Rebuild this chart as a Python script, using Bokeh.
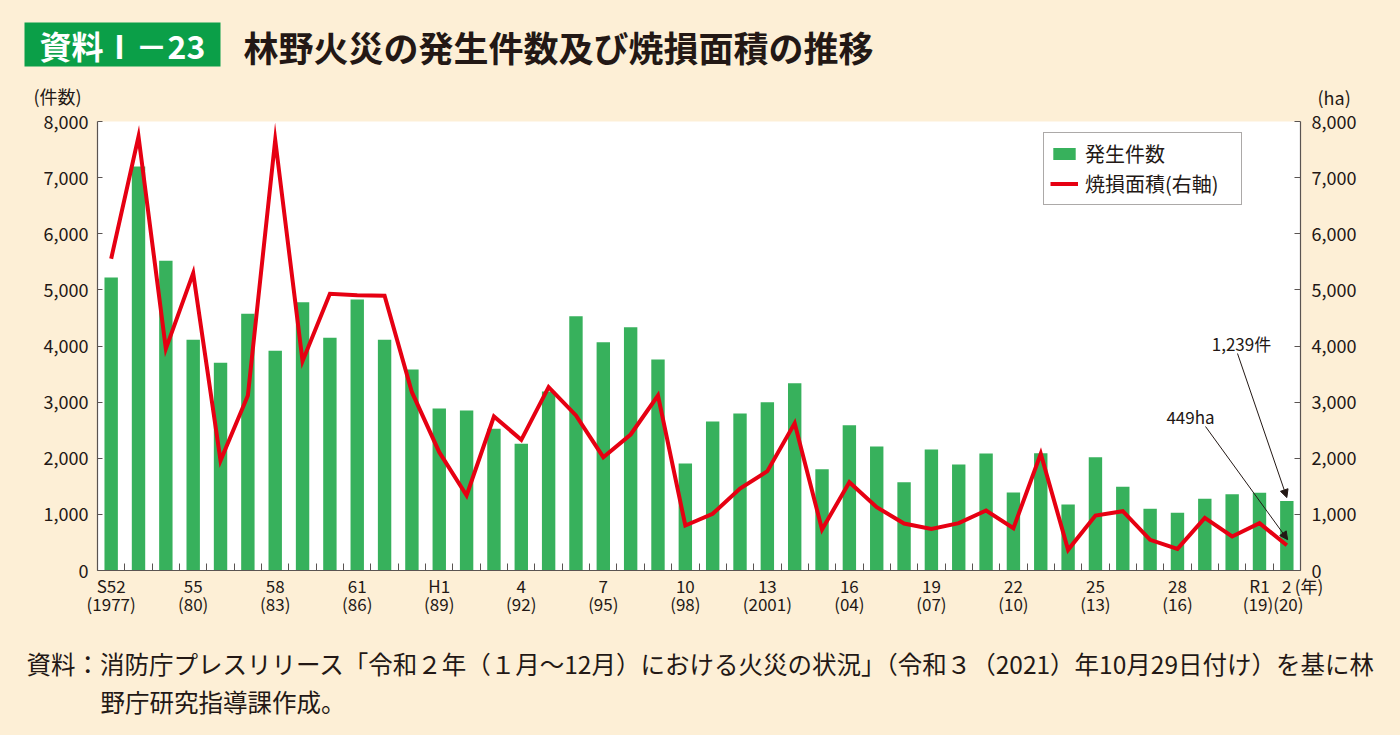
from bokeh.plotting import figure
from bokeh.layouts import column
from bokeh.models import (Range1d, LinearAxis, FixedTicker, NumeralTickFormatter, Label,
                          Arrow, NormalHead, Legend, LegendItem, ColumnDataSource)
from bokeh.core.properties import value
from bokeh.embed import file_html
from bokeh.resources import INLINE

# ---------------- data ----------------
years = list(range(1977, 2021))
counts = [5220, 7200, 5520, 4110, 3700, 4575, 3915, 4780, 4145, 4830,
          4110, 3580, 2886, 2850, 2525, 2257, 3190, 4530, 4065, 4335,
          3760, 1906, 2655, 2797, 3000, 3338, 1805, 2590, 2209, 1572,
          2156, 1889, 2084, 1390, 2090, 1178, 2019, 1491, 1100, 1028,
          1280, 1360, 1386, 1239]
area = [5555, 7733, 3950, 5298, 1960, 3118, 7673, 3730, 4930, 4905,
        4894, 3177, 2108, 1336, 2744, 2328, 3267, 2762, 2019, 2423,
        3118, 802, 1010, 1461, 1770, 2625, 730, 1574, 1128, 837,
        740, 843, 1069, 754, 2079, 368, 980, 1057, 546, 386,
        938, 606, 843, 449]
label_years = [1977, 1980, 1983, 1986, 1989, 1992, 1995, 1998, 2001, 2004, 2007, 2010, 2013, 2016]
label_top = ["S52", "55", "58", "61", "H1", "4", "7", "10", "13", "16", "19", "22", "25", "28"]
label_bottom = ["(1977)", "(80)", "(83)", "(86)", "(89)", "(92)", "(95)", "(98)", "(2001)",
                "(04)", "(07)", "(10)", "(13)", "(16)"]
last_years = [2019, 2020]
last_top = ["R1", "2"]
last_bottom = "(19)(20)"
year_unit = "\u3000(年)"
y_ticks = [0, 1000, 2000, 3000, 4000, 5000, 6000, 7000, 8000]
series_names = ["発生件数", "焼損面積(右軸)"]
title_tag = "資料Ⅰ－23"
title_text = "林野火災の発生件数及び焼損面積の推移"
unit_left = "(件数)"
unit_right = "(ha)"
footer_lines = ["資料：消防庁プレスリリース「令和２年（１月～12月）における火災の状況」（令和３（2021）年10月29日付け）を基に林",
                "野庁研究指導課作成。"]

# ---------------- style ----------------
CREAM = "#fdefd6"
GREEN = "#37b15c"
TAG_GREEN = "#0b9f48"
RED = "#e60012"
TXT = "#231815"
AX = "#5a5452"
FONT = "Noto Sans CJK JP"

W = 1400
TOP_H = 108          # header band (page y 0..108)
MAIN_H = 517         # chart (page y 108..625)
FOOT_H = 735 - TOP_H - MAIN_H
FL, FR, FT, FB = 97, 1300, 121, 570   # frame edges in page pixels
X_LO, X_HI = years[0] - 0.5, years[-1] + 0.5
Y_LO, Y_HI = 0, 8000


def cx(px):
    return X_LO + (px - FL) * (X_HI - X_LO) / (FR - FL)


def cy(py):
    return Y_LO + (FB - py) * (Y_HI - Y_LO) / (FB - FT)


def band(h):
    f = figure(width=W, height=h, x_range=Range1d(0, W), y_range=Range1d(h, 0),
               output_backend="svg", toolbar_location=None,
               x_axis_location=None, y_axis_location=None,
               min_border=0, min_border_left=0, min_border_right=0,
               min_border_top=0, min_border_bottom=0, frame_align=False,
               background_fill_color=CREAM, border_fill_color=CREAM, outline_line_color=None,
               styles={"background-color": CREAM})
    f.grid.visible = False
    return f


# ---------------- header ----------------
top = band(TOP_H)
top.quad(left=[24], right=[220], top=[22], bottom=[66], fill_color=TAG_GREEN, line_color=None)
top.text(x=[122], y=[44], text=[title_tag], text_align="center", text_baseline="middle",
         text_font=value(FONT), text_font_size=value("32px"), text_font_style="bold",
         text_color="white")
top.text(x=[243], y=[46], text=[title_text], text_align="left", text_baseline="middle",
         text_font=value(FONT), text_font_size=value("35px"), text_font_style="bold",
         text_color=TXT)
top.text(x=[33, 1317], y=[95, 96], text=[unit_left, unit_right], text_align="left",
         text_baseline="middle", text_font=value(FONT), text_font_size=value("18px"),
         text_color=TXT)

# ---------------- main chart ----------------
p = figure(width=W, height=MAIN_H, x_range=Range1d(X_LO, X_HI),
           y_range=Range1d(Y_LO, Y_HI), output_backend="svg", toolbar_location=None,
           x_axis_location=None, y_axis_location=None, frame_align=False,
           min_border_left=FL, min_border_right=W - FR, min_border_top=FT - TOP_H,
           min_border_bottom=TOP_H + MAIN_H - FB,
           background_fill_color="white", border_fill_color=CREAM, outline_line_color=None,
           styles={"background-color": CREAM})
p.extra_y_ranges = {"area": Range1d(Y_LO, Y_HI)}
p.grid.visible = False


def style_axis(ax, size):
    ax.axis_line_color = AX
    ax.axis_line_width = 1.2
    ax.major_tick_line_color = AX
    ax.minor_tick_line_color = AX
    ax.major_label_text_color = TXT
    ax.major_label_text_font = FONT
    ax.major_label_text_font_size = size


left = LinearAxis(ticker=FixedTicker(ticks=y_ticks), formatter=NumeralTickFormatter(format="0,0"))
style_axis(left, "18px")
left.major_tick_in = 5
left.major_tick_out = 0
left.minor_tick_in = 0
left.minor_tick_out = 0
left.major_label_standoff = 9
p.add_layout(left, "left")

right = LinearAxis(y_range_name="area", ticker=FixedTicker(ticks=y_ticks),
                   formatter=NumeralTickFormatter(format="0,0"))
style_axis(right, "18px")
right.major_tick_in = 6
right.major_tick_out = 0
right.minor_tick_in = 0
right.minor_tick_out = 0
right.major_label_standoff = 11
p.add_layout(right, "right")

bottom = LinearAxis(ticker=FixedTicker(ticks=label_years + last_years + [X_HI],
                                       minor_ticks=[y - 0.5 for y in years] + [X_HI]))
style_axis(bottom, "17px")
bottom.major_tick_in = 0
bottom.major_tick_out = 0
bottom.minor_tick_in = 7
bottom.minor_tick_out = 0
bottom.major_label_standoff = 2
overrides = {y: t for y, t in zip(label_years, label_top)}
overrides.update({y: t for y, t in zip(last_years, last_top)})
overrides[X_HI] = year_unit
bottom.major_label_overrides = overrides
p.add_layout(bottom, "below")

# second row of x labels: a label-only axis stacked under the first one
bottom2 = LinearAxis(ticker=FixedTicker(ticks=label_years + [2019.5]))
style_axis(bottom2, "17px")
bottom2.axis_line_color = None
bottom2.major_tick_in = 0
bottom2.major_tick_out = 0
bottom2.minor_tick_in = 0
bottom2.minor_tick_out = 0
bottom2.major_label_standoff = -10
ov2 = {y: t for y, t in zip(label_years, label_bottom)}
ov2[2019.5] = last_bottom
bottom2.major_label_overrides = ov2
p.add_layout(bottom2, "below")

src = ColumnDataSource(dict(year=years, count=counts, area=area))
bars = p.vbar(x="year", top="count", width=0.49, source=src, fill_color=GREEN, line_color=None)
line = p.line(x="year", y="area", source=src, y_range_name="area", line_color=RED,
              line_width=4, line_join="miter")

legend = Legend(items=[LegendItem(label=series_names[0], renderers=[bars]),
                       LegendItem(label=series_names[1], renderers=[line])],
                location=(1043 - FL, FB - 205), orientation="vertical",
                label_text_font=FONT, label_text_font_size="20px", label_text_color=TXT,
                glyph_width=28, glyph_height=15, label_standoff=7, label_width=150,
                spacing=1, padding=6,
                border_line_color=AX, border_line_width=1, background_fill_color="white",
                background_fill_alpha=1, margin=0)
p.add_layout(legend)

# annotations for the latest year
p.add_layout(Arrow(x_start=cx(1237), y_start=cy(353), x_end=years[-1], y_end=counts[-1] + 60,
                   line_color=TXT, line_width=1,
                   end=NormalHead(size=8, fill_color=TXT, line_color=TXT, line_width=1)))
p.add_layout(Arrow(x_start=cx(1205), y_start=cy(426), x_end=years[-1] + 0.03, y_end=area[-1] + 100,
                   line_color=TXT, line_width=1,
                   end=NormalHead(size=8, fill_color=TXT, line_color=TXT, line_width=1)))
p.add_layout(Label(x=cx(1241), y=cy(343), text=f"{counts[-1]:,}件", text_align="center",
                   text_baseline="middle", text_font=FONT, text_font_size="17px", text_color=TXT))
p.add_layout(Label(x=cx(1190), y=cy(416), text=f"{area[-1]}ha", text_align="center",
                   text_baseline="middle", text_font=FONT, text_font_size="17px", text_color=TXT))

# ---------------- footer ----------------
foot = band(FOOT_H)
y0 = TOP_H + MAIN_H
foot.text(x=[26, 100], y=[663 - y0, 701 - y0], text=footer_lines, text_align="left",
          text_baseline="middle", text_font=value(FONT), text_font_size=value("24.5px"),
          text_color=TXT)

page = column(top, p, foot, spacing=0, styles={"background-color": CREAM})
open("out.html", "w").write(file_html(page, INLINE))
